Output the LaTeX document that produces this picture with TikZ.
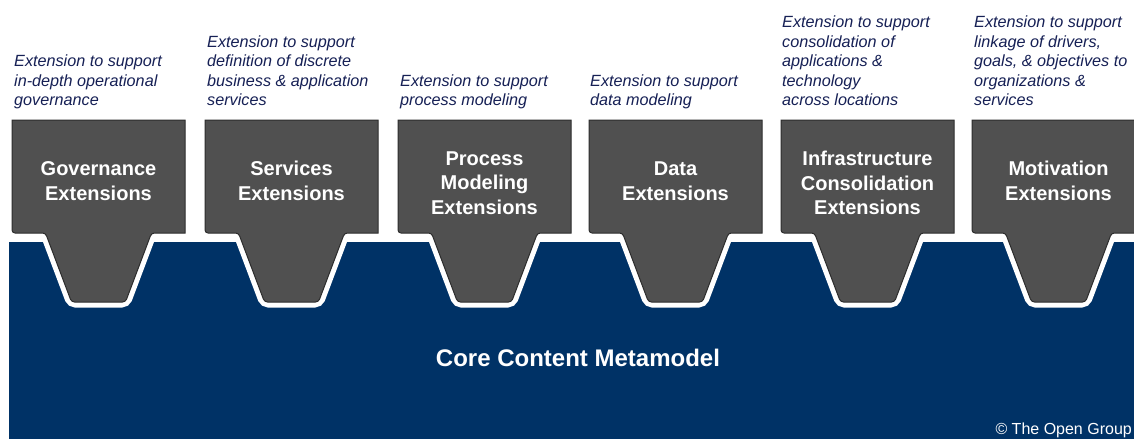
\documentclass[tikz,border=0pt]{standalone}
\usepackage{fontspec}
\setmainfont{Liberation Sans}
\definecolor{blockgrey}{RGB}{80,80,80}
\definecolor{blockedge}{RGB}{45,45,45}
\definecolor{coreblue}{RGB}{0,50,102}
\definecolor{desccol}{RGB}{22,32,85}
\tikzset{
  desc/.style={anchor=south west, inner sep=0pt, align=left, text=desccol,
    font=\fontsize{16.2}{19.5}\selectfont\itshape},
  title/.style={inner sep=0pt, align=center, text=white,
    font=\fontsize{20}{24.5}\selectfont\bfseries},
  tabfill/.style={fill=blockgrey, draw=blockedge, line width=1pt, rounded corners=3pt},
  tabhalo/.style={draw=white, line width=11pt, rounded corners=4pt},
}
\newcommand{\extblock}[1]{%
  \pgfmathsetmacro{\xl}{#1}%
  \pgfmathsetmacro{\xr}{#1+173}%
  \pgfmathsetmacro{\cx}{#1+86.5}%
  \path[tabhalo] (\cx-53,233) -- (\cx-27,302) -- (\cx+27,302) -- (\cx+53,233);
  \path[tabfill] (\xl,120) [sharp corners] -- (\xr,120) -- (\xr,233) [rounded corners=3pt] -- (\cx+53,233) -- (\cx+27,302) -- (\cx-27,302) -- (\cx-53,233) -- (\xl,233) [sharp corners] -- cycle;
}
\begin{document}
\begin{tikzpicture}[x=1pt,y=-1pt]
\clip (0,0) rectangle (1134,439);
\fill[white] (0,0) rectangle (1134,439);
\fill[coreblue] (9,242) rectangle (1134,439);
\foreach \b in {12,205,398,589,781,972} {\extblock{\b}}
% titles
\node[title] (t1) at (98.5,181) {Governance\\Extensions};
\node[title] (t2) at (291.5,181) {Services\\Extensions};
\node[title] (t3) at (484.5,183) {Process\\Modeling\\Extensions};
\node[title] (t4) at (675.5,181) {Data\\Extensions};
\node[title] (t5) at (867.5,183) {Infrastructure\\Consolidation\\Extensions};
\node[title] (t6) at (1058.5,181) {Motivation\\Extensions};
% descriptions
\node[desc] (d1) at (14,112) {Extension to support\\in-depth operational\\governance\strut};
\node[desc] (d2) at (207,112) {Extension to support\\definition of discrete\\business \& application\\services\strut};
\node[desc] (d3) at (400,112) {Extension to support\\process modeling\strut};
\node[desc] (d4) at (590,112) {Extension to support\\data modeling\strut};
\node[desc] (d5) at (782,112) {Extension to support\\consolidation of\\applications \&\\technology\\across locations\strut};
\node[desc] (d6) at (974,112) {Extension to support\\linkage of drivers,\\goals, \& objectives to\\organizations \&\\services\strut};
% core
\node[inner sep=0pt, text=white, font=\fontsize{24}{28}\selectfont\bfseries] (core) at (578,358) {Core Content Metamodel};
\node[anchor=base east, inner sep=0pt, text=white, font=\fontsize{16}{19}\selectfont] (copy) at (1132,434) {\textcopyright{} The Open Group};
\end{tikzpicture}
\end{document}
